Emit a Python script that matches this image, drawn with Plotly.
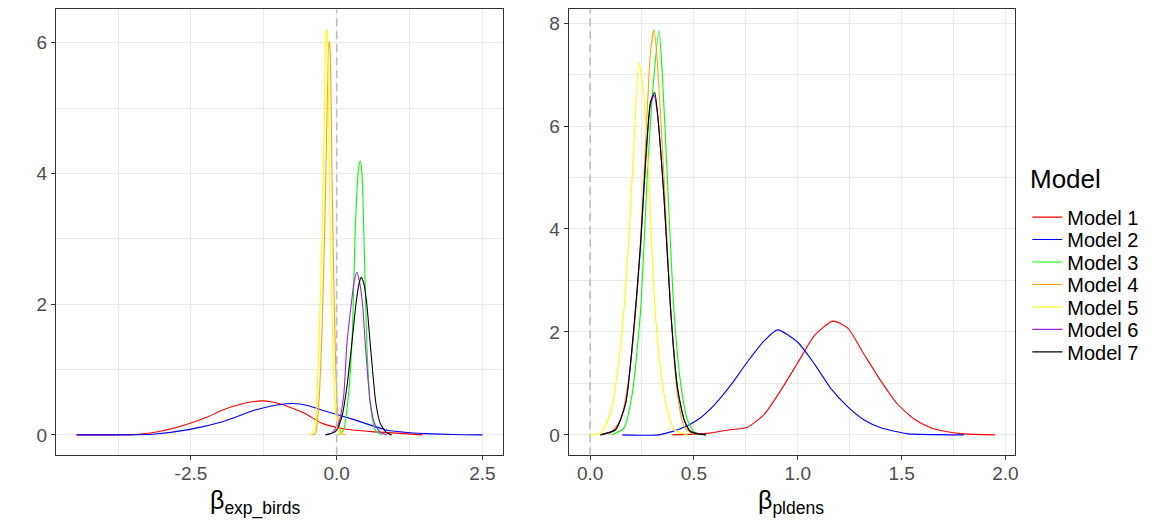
import plotly.graph_objects as go

# Posterior densities, one list per model and panel
models = ["Model 1", "Model 2", "Model 3", "Model 4", "Model 5", "Model 6", "Model 7"]
colors = ["#FF0000", "#0000FF", "#00FF00", "#FFA500", "#FFFF00", "#A020F0", "#000000"]

# beta exp_birds
birds_x1 = [-4.47, -3.9, -3.4, -3.0, -2.54, -2.2, -1.96, -1.6, -1.28, -0.95, -0.55, -0.26, 0.14, 0.6, 1.16, 1.47]
birds_y1 = [0.0, 0.0, 0.01, 0.06, 0.17, 0.28, 0.38, 0.48, 0.52, 0.47, 0.33, 0.18, 0.09, 0.05, 0.02, 0.0]
birds_x2 = [-4.45, -3.6, -3.16, -2.54, -1.96, -1.4, -1.0, -0.75, -0.5, -0.26, 0.31, 0.87, 1.16, 1.5, 2.0, 2.5]
birds_y2 = [0.0, 0.0, 0.01, 0.08, 0.20, 0.38, 0.46, 0.48, 0.45, 0.38, 0.23, 0.07, 0.04, 0.02, 0.005, 0.0]
birds_x3 = [0.034, 0.119, 0.205, 0.273, 0.319, 0.375, 0.404, 0.432, 0.478, 0.517, 0.575, 0.66, 0.773]
birds_y3 = [0.0, 0.08, 0.63, 1.65, 3.17, 4.08, 4.19, 4.03, 2.66, 1.40, 0.48, 0.08, 0.0]
birds_x4 = [-0.42, -0.364, -0.307, -0.25, -0.205, -0.165, -0.137, -0.125, -0.108, -0.08, -0.051, -0.012, 0.034, 0.09, 0.148]
birds_y4 = [0.0, 0.02, 0.48, 1.65, 3.17, 4.95, 5.96, 6.02, 5.81, 3.93, 2.41, 0.89, 0.18, 0.02, 0.0]
birds_x5 = [-0.45, -0.375, -0.336, -0.296, -0.25, -0.216, -0.182, -0.171, -0.159, -0.137, -0.108, -0.068, -0.023, 0.034, 0.09]
birds_y5 = [0.0, 0.08, 0.63, 1.65, 3.02, 4.69, 6.16, 6.2, 6.16, 4.95, 3.02, 1.40, 0.38, 0.05, 0.0]
birds_x6 = [-0.19, -0.08, 0.034, 0.12, 0.176, 0.25, 0.30, 0.347, 0.39, 0.444, 0.49, 0.575, 0.66, 0.75, 0.86]
birds_y6 = [0.0, 0.03, 0.18, 0.6, 1.40, 2.0, 2.35, 2.49, 2.35, 2.0, 1.40, 0.5, 0.15, 0.04, 0.0]
birds_x7 = [-0.19, -0.023, 0.09, 0.176, 0.26, 0.33, 0.38, 0.421, 0.47, 0.517, 0.575, 0.67, 0.746, 0.858, 0.944]
birds_y7 = [0.0, 0.05, 0.28, 0.74, 1.40, 2.0, 2.3, 2.41, 2.3, 2.0, 1.40, 0.5, 0.18, 0.03, 0.0]

# beta pldens
pl_x1 = [0.396, 0.565, 0.678, 0.758, 0.839, 0.919, 1.0, 1.08, 1.169, 1.24, 1.32, 1.40, 1.48, 1.56, 1.64, 1.72, 1.80, 1.95]
pl_y1 = [0.0, 0.03, 0.10, 0.15, 0.40, 0.87, 1.40, 1.93, 2.21, 2.08, 1.56, 1.05, 0.60, 0.31, 0.14, 0.06, 0.02, 0.0]
pl_x2 = [0.155, 0.33, 0.435, 0.517, 0.598, 0.678, 0.758, 0.839, 0.903, 1.0, 1.08, 1.16, 1.24, 1.32, 1.40, 1.48, 1.53, 1.80]
pl_y2 = [0.0, 0.0, 0.12, 0.29, 0.58, 0.97, 1.42, 1.83, 2.04, 1.80, 1.38, 0.90, 0.55, 0.29, 0.14, 0.06, 0.02, 0.0]
pl_x3 = [0.106, 0.163, 0.203, 0.243, 0.275, 0.30, 0.332, 0.348, 0.372, 0.404, 0.436, 0.469, 0.50, 0.533]
pl_y3 = [0.0, 0.13, 0.80, 2.41, 4.99, 6.60, 7.85, 7.0, 4.99, 2.41, 1.0, 0.29, 0.06, 0.0]
pl_x4 = [0.09, 0.147, 0.187, 0.227, 0.267, 0.291, 0.308, 0.324, 0.356, 0.388, 0.42, 0.453, 0.50]
pl_y4 = [0.0, 0.29, 1.13, 2.75, 5.63, 7.43, 7.87, 7.24, 4.99, 2.41, 0.80, 0.16, 0.0]
pl_x5 = [-0.006, 0.05, 0.098, 0.139, 0.163, 0.187, 0.211, 0.235, 0.259, 0.283, 0.308, 0.34, 0.372, 0.404, 0.453, 0.469]
pl_y5 = [0.0, 0.03, 0.42, 1.45, 2.41, 3.83, 5.63, 7.23, 6.60, 4.99, 2.74, 1.25, 0.48, 0.10, 0.02, 0.0]
pl_x6 = [0.05, 0.122, 0.171, 0.211, 0.243, 0.267, 0.291, 0.308, 0.324, 0.356, 0.388, 0.42, 0.453, 0.485, 0.557]
pl_y6 = [0.0, 0.1, 0.6, 2.05, 3.65, 5.25, 6.42, 6.6, 6.25, 4.62, 2.45, 0.95, 0.3, 0.07, 0.0]
pl_x7 = [0.05, 0.122, 0.171, 0.211, 0.243, 0.267, 0.291, 0.311, 0.324, 0.356, 0.388, 0.42, 0.453, 0.485, 0.557]
pl_y7 = [0.0, 0.1, 0.61, 2.09, 3.70, 5.31, 6.47, 6.65, 6.27, 4.60, 2.41, 0.93, 0.29, 0.06, 0.0]

birds_x = [birds_x1, birds_x2, birds_x3, birds_x4, birds_x5, birds_x6, birds_x7]
birds_y = [birds_y1, birds_y2, birds_y3, birds_y4, birds_y5, birds_y6, birds_y7]
pl_x = [pl_x1, pl_x2, pl_x3, pl_x4, pl_x5, pl_x6, pl_x7]
pl_y = [pl_y1, pl_y2, pl_y3, pl_y4, pl_y5, pl_y6, pl_y7]

birds_xticks = [-2.5, 0.0, 2.5]
birds_xtext = ["-2.5", "0.0", "2.5"]
birds_yticks = [0, 2, 4, 6]
pl_xticks = [0.0, 0.5, 1.0, 1.5, 2.0]
pl_xtext = ["0.0", "0.5", "1.0", "1.5", "2.0"]
pl_yticks = [0, 2, 4, 6, 8]
ref_line = 0

FONT = "Arial, Liberation Sans, sans-serif"
# page has an 8px body margin, so the figure is a bit smaller than the window
OFF = 8
W, H = 1152 - OFF, 528 - OFF


def px(x):
    return (x - OFF) / W


def py(y):
    return 1 - (y - OFF) / H


def padded(lists):
    lo = min(min(v) for v in lists)
    hi = max(max(v) for v in lists)
    pad = (hi - lo) * 0.05
    return [lo - pad, hi + pad]


fig = go.Figure()
for i, m in enumerate(models):
    leg = "legend" if i == 0 else "legend%d" % (i + 1)
    fig.add_trace(go.Scatter(x=birds_x[i], y=birds_y[i], mode="lines", name=m,
                             line=dict(color=colors[i], width=1.1, shape="spline", smoothing=0.6),
                             legend=leg, xaxis="x", yaxis="y"))
    fig.add_trace(go.Scatter(x=pl_x[i], y=pl_y[i], mode="lines", name=m,
                             line=dict(color=colors[i], width=1.1, shape="spline", smoothing=0.6),
                             showlegend=False, xaxis="x2", yaxis="y2"))

axis_style = dict(showgrid=True, gridcolor="#EBEBEB", gridwidth=1.1, zeroline=False,
                  showline=True, mirror=True, linecolor="#333333", linewidth=1,
                  ticks="outside", ticklen=4, tickcolor="#333333", tickwidth=1,
                  tickfont=dict(family=FONT, size=19, color="#4D4D4D"))
xtick_extra = dict(ticklabelstandoff=-3)
minor = dict(showgrid=True, gridcolor="#EBEBEB", gridwidth=0.6, tick0=0)
ydom = [py(455), 1 - 0.5 / H]

fig.update_layout(
    width=W, height=H,
    margin=dict(l=0, r=0, t=0, b=0),
    paper_bgcolor="white", plot_bgcolor="white",
    font=dict(family=FONT, color="black"),
    xaxis=dict(axis_style, **xtick_extra, domain=[px(56), px(504)], range=padded(birds_x),
               tickvals=birds_xticks, ticktext=birds_xtext, minor=dict(minor, dtick=1.25)),
    yaxis=dict(axis_style, domain=ydom, range=padded(birds_y), anchor="x",
               tickvals=birds_yticks, minor=dict(minor, dtick=1)),
    xaxis2=dict(axis_style, **xtick_extra, domain=[px(570), px(1018)], range=padded(pl_x), anchor="y2",
                tickvals=pl_xticks, ticktext=pl_xtext, minor=dict(minor, dtick=0.25)),
    yaxis2=dict(axis_style, domain=ydom, range=padded(pl_y), anchor="x2",
                tickvals=pl_yticks, minor=dict(minor, dtick=1)),
    showlegend=True,
)

# one single-entry legend per model so the rows sit as tightly as in the reference
for i in range(len(models)):
    key = "legend" if i == 0 else "legend%d" % (i + 1)
    fig.update_layout({key: dict(x=px(1030), y=py(216.5 + 22.5 * i), xanchor="left", yanchor="middle",
                                 font=dict(family=FONT, size=20, color="black"),
                                 bgcolor="rgba(0,0,0,0)", borderwidth=0)})

fig.add_annotation(text="Model", xref="paper", yref="paper", x=px(1031), y=py(178),
                   xanchor="left", yanchor="middle", showarrow=False,
                   font=dict(family=FONT, size=26, color="black"))

for xr in ["x", "x2"]:
    fig.add_shape(type="line", xref=xr, yref=xr.replace("x", "y") + " domain",
                  x0=ref_line, x1=ref_line, y0=0, y1=1,
                  line=dict(color="#BEBEBE", width=1.6, dash="8px,5px"), layer="above")

fig.add_annotation(text="β<sub>exp_birds</sub>", xref="paper", yref="paper",
                   x=px(209), y=py(502), xanchor="left", yanchor="middle",
                   showarrow=False, font=dict(family=FONT, size=25, color="black"))
fig.add_annotation(text="β<sub>pldens</sub>", xref="paper", yref="paper",
                   x=px(758), y=py(502), xanchor="left", yanchor="middle",
                   showarrow=False, font=dict(family=FONT, size=25, color="black"))

fig.write_html("out.html")
